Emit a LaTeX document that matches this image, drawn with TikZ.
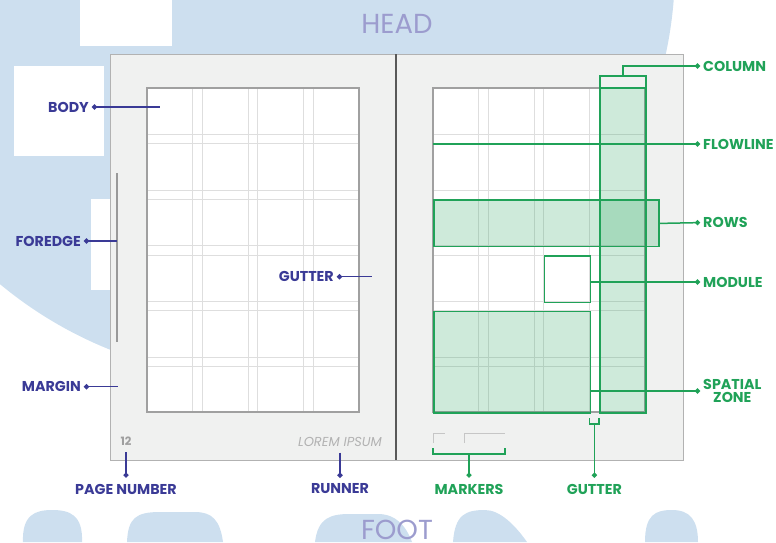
\documentclass[tikz,border=0pt]{standalone}
\usepackage{fontspec}
\setmainfont{Poppins}
\usetikzlibrary{arrows.meta, positioning, calc}
\definecolor{bgblue}{RGB}{205,223,239}
\definecolor{headtxt}{RGB}{156,156,206}
\definecolor{lblblue}{RGB}{58,58,150}
\definecolor{lblgreen}{RGB}{32,162,88}
\definecolor{pagefill}{RGB}{240,241,240}
\definecolor{pageline}{RGB}{178,178,178}
\definecolor{gridline}{RGB}{222,222,222}

\begin{document}
\begin{tikzpicture}[x=1pt,y=-1pt,>={Circle[length=5pt]},
  lbl/.style={font=\fontsize{14.3}{16}\selectfont\bfseries,text=lblblue,inner sep=3pt},
  glbl/.style={lbl,text=lblgreen,align=center},
  bline/.style={draw=lblblue,line width=1.5pt},
  gline/.style={draw=lblgreen,line width=1.5pt},
  gbox/.style={draw=lblgreen,line width=1.6pt,inner sep=0pt,anchor=north west},
  zone/.style={fill=lblgreen,fill opacity=0.22},
  page/.style={fill=pagefill,draw=pageline,line width=1pt},
  big/.style={font=\fontsize{27.5}{28}\selectfont,text=headtxt}]
  \useasboundingbox (0,0) rectangle (776,542);
  % background
  \begin{scope}
    \clip (0,0) rectangle (776,542);
    \fill[bgblue] (263,-33) circle[radius=412];
    \fill[white] (80,0) rectangle (172,46);
    \fill[white] (14,66) rectangle (104,156);
    \fill[white] (91,199) rectangle (112,290);
    \fill[bgblue] (23,542) .. controls (22,515) and (35,510) .. (52,510) .. controls (70,510) and (83,515) .. (82,542) -- cycle;
    \fill[bgblue] (127,542) .. controls (128,518) and (136,512) .. (160,512) -- (195,512) .. controls (212,512) and (220,520) .. (223,542) -- cycle;
    \fill[bgblue] (315,542) .. controls (318,518) and (330,514) .. (350,514) -- (378,514) .. controls (396,514) and (406,526) .. (412,542) -- cycle;
    \fill[bgblue] (453,542) .. controls (455,515) and (465,510) .. (485,510) .. controls (500,510) and (515,525) .. (527,542) -- cycle;
    \fill[bgblue] (645,542) .. controls (645,515) and (655,510) .. (672,510) .. controls (690,510) and (698,520) .. (698,542) -- cycle;
  \end{scope}
  \node[big] (head) at (397,24) {HEAD};
  \node[big] (foot) at (397,530) {FOOT};

  % spread
  \draw[page] (110,54) rectangle (396,460);
  \draw[page] (396,54) rectangle (683,460);
  \draw[line width=1.2pt,black!65] (396,54) -- (396,460);
  \foreach \ox in {147,433}{
    \fill[white] (\ox,88) rectangle ++(212,324);
    \foreach \i in {1,2,3}{
      \draw[gridline,line width=0.9pt] ({\ox+\i*55.4-9.7},88) -- ++(0,324);
      \draw[gridline,line width=0.9pt] ({\ox+\i*55.4},88) -- ++(0,324);
    }
    \foreach \j in {1,...,5}{
      \draw[gridline,line width=0.9pt] (\ox,{88+\j*55.7-9.3}) -- ++(212,0);
      \draw[gridline,line width=0.9pt] (\ox,{88+\j*55.7}) -- ++(212,0);
    }
    \draw[pageline!90!black,line width=1.2pt] (\ox,88) rectangle ++(212,324);
  }
  \draw[gray!80,line width=1.3pt] (117,173) -- (117,342);
  \node[font=\fontsize{11.5}{12}\selectfont\bfseries,text=gray!75] (pnum) at (126,441.5) {12};
  \node[font=\fontsize{13}{13}\selectfont\itshape,text=gray!60] (lorem) at (340,441.5) {LOREM IPSUM};
  \draw[gray!45,line width=1.1pt] (433.3,443) -- (433.3,433.3) -- (444.5,433.3);
  \draw[gray!45,line width=1.1pt] (464.3,443) -- (464.3,433.3) -- (505,433.3);

  % green zones
  \fill[zone] (599.2,88) rectangle (645,412);
  \fill[zone] (433,199.4) rectangle (658,245.8);
  \fill[zone] (433,310.8) rectangle (589.5,412);
  \node[gbox,minimum width=45.8pt,minimum height=337pt] (colbox) at (599.2,75) {};
  \draw[gline,line width=1.6pt] (599.2,88) -- (645,88);
  \node[gbox,minimum width=225pt,minimum height=46.4pt] (rowsbox) at (433,199.4) {};
  \node[gbox,minimum width=45.7pt,minimum height=46.4pt] (modbox) at (543.8,255.1) {};
  \node[gbox,minimum width=156.5pt,minimum height=101.2pt] (zonebox) at (433,310.8) {};

  % labels left
  \node[lbl,anchor=east] (body) at (92,107) {BODY};
  \node[lbl,anchor=east] (foredge) at (84,241) {FOREDGE};
  \node[lbl,anchor=east] (margin) at (84,386.7) {MARGIN};
  \node[lbl,anchor=east] (gutterl) at (337,276.7) {GUTTER};
  \node[lbl] (pagenum) at (126,489) {PAGE NUMBER};
  \node[lbl] (runner) at (340,489) {RUNNER};
  \coordinate (bodypt) at (160,107);
  \coordinate (forept) at (117,241);
  \coordinate (marpt) at (118,386.7);
  \coordinate (gutpt) at (372,276.7);
  \draw[bline,<-] (body.east) -- (bodypt);
  \draw[bline,<-] (foredge.east) -- (forept);
  \draw[bline,<-] (margin.east) -- (marpt);
  \draw[bline,<-] (gutterl.east) -- (gutpt);
  \draw[bline,->,shorten <=3pt,shorten >=3pt] (pnum.south) -- (pagenum.north);
  \draw[bline,->,shorten <=3pt,shorten >=3pt] (lorem.south) -- (runner.north);

  % labels right
  \node[glbl,anchor=west] (column) at (700,66) {COLUMN};
  \node[glbl,anchor=west] (flowline) at (700,144) {FLOWLINE};
  \node[glbl,anchor=west] (rows) at (700,222.6) {ROWS};
  \node[glbl,anchor=west] (module) at (700,282) {MODULE};
  \node[glbl,anchor=west] (spatial) at (700,391) {SPATIAL\\[-3pt]ZONE};
  \node[glbl] (markers) at (469,489) {MARKERS};
  \node[glbl] (gutterr) at (594.4,489) {GUTTER};
  \coordinate (flowpt) at (433,144);
  \draw[gline,->] (colbox.north) |- (column.west);
  \draw[gline,->] (rowsbox.east) -- (rows.west);
  \draw[gline,->] (modbox.east |- module.west) -- (module.west);
  \draw[gline,->] (zonebox.east |- spatial.west) -- (spatial.west);
  \draw[gline] (433,448) -- (433,454) -- (505,454) -- (505,448);
  \coordinate (mkmid) at (469,454);
  \draw[gline,->,shorten >=3pt] (mkmid) -- (markers.north);
  \draw[gline] (589.5,418) -- (589.5,424) -- (599.2,424) -- (599.2,418);
  \coordinate (gutmid) at (594.4,424);
  \draw[gline,->,shorten >=3pt] (gutmid) -- (gutterr.north);
  \draw[gline,->] (flowpt) -- (flowline.west);
\end{tikzpicture}
\end{document}
